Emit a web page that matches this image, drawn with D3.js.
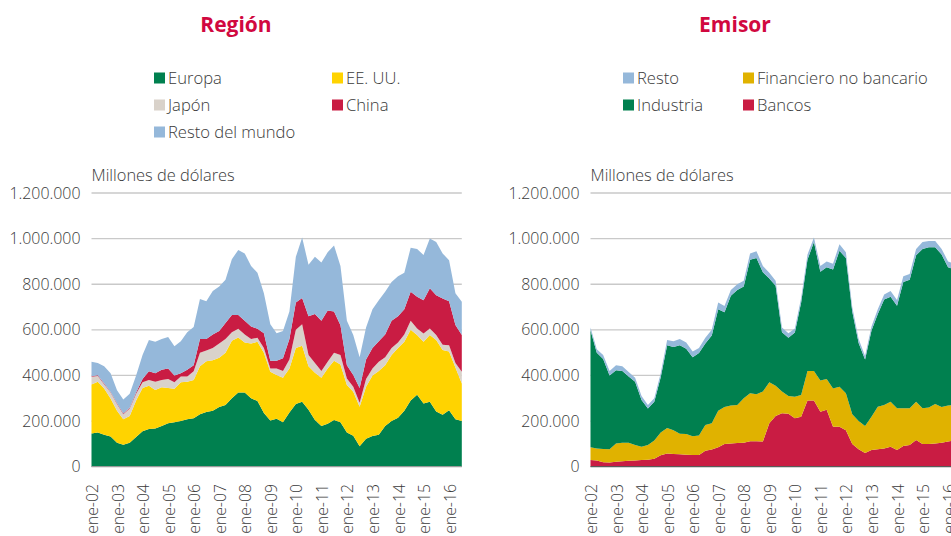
<!DOCTYPE html>
<html>
<head>
<meta charset="utf-8">
<script src="https://cdn.jsdelivr.net/npm/d3@7"></script>
<style>
  body { margin: 0; background: #fff; }
  svg { display: block; font-family: "Open Sans", "Noto Sans", sans-serif; }
  .lt { font-weight: 300; fill: #3a3a3a; }
</style>
</head>
<body>
<div id="vis"></div>
<script>
// quarterly readings, Jan 2002 .. Jul 2016 (values in thousands of millions of dollars)
const fechas = d3.range(59).map(i => new Date(2002, i * 3, 1));
const xTickLabels = ["ene-02","ene-03","ene-04","ene-05","ene-06","ene-07","ene-08","ene-09",
                     "ene-10","ene-11","ene-12","ene-13","ene-14","ene-15","ene-16"];
const yTicks = [0, 200000, 400000, 600000, 800000, 1000000, 1200000];

// Región
const europa = [146,150,140,132,105,96,105,130,155,165,168,178,190,195,200,208,212,230,240,245,
  262,270,300,325,325,300,288,235,203,210,195,238,275,285,250,205,178,188,205,195,
  150,136,90,122,135,140,178,200,215,245,290,315,277,285,242,228,248,208,200];
const eeuu = [214,222,203,167,140,112,117,160,190,190,168,170,155,147,170,164,168,210,222,222,
  216,230,252,241,220,240,260,265,213,192,195,192,245,245,190,207,212,242,260,253,
  208,193,173,228,265,280,267,290,305,303,310,262,271,292,313,284,257,227,165];
const japon = [34,26,19,26,30,22,33,30,25,25,36,32,40,28,25,23,38,60,48,53,
  62,60,38,39,35,20,17,20,15,29,30,40,80,95,50,43,30,30,35,42,
  29,21,17,35,30,40,35,30,25,32,40,29,36,29,22,23,28,20,51];
const china = [3,3,3,3,3,3,3,5,15,38,38,45,45,30,15,30,27,60,50,60,
  55,70,75,60,60,55,40,65,34,34,55,90,120,115,170,215,220,225,180,130,
  58,52,65,85,90,90,100,120,115,110,127,139,146,176,175,202,192,166,161];
const restoMundo = [63,54,75,82,57,62,62,75,105,137,138,135,139,128,140,165,167,175,165,190,
  195,190,245,285,295,265,245,175,160,120,120,120,200,265,225,250,255,255,290,260,
  195,175,135,140,170,180,187,170,175,160,193,210,198,218,233,198,180,139,146];

// Emisor
const bancos = [29,27,20,18,22,24,26,27,29,30,35,50,58,56,55,52,51,51,70,75,
  85,100,102,104,105,112,112,110,190,222,234,232,212,219,290,290,241,250,175,175,
  160,100,76,60,73,76,80,88,73,91,95,117,99,99,102,105,110,115,115];
const finNoBancario = [56,53,58,58,80,81,79,68,59,65,80,100,112,104,90,91,83,86,113,115,
  160,162,166,166,195,210,206,220,180,133,96,78,95,95,130,130,137,135,168,175,
  162,130,124,118,146,187,190,197,183,165,161,168,157,161,173,157,158,155,153];
const industria = [513,420,394,324,321,315,290,277,204,160,170,242,363,365,387,374,346,361,357,385,
  445,415,482,505,490,585,597,522,455,438,260,255,281,406,488,565,477,490,522,597,
  593,450,342,292,378,407,463,460,450,554,564,642,699,702,687,668,607,595,587];
const restoEmisor = [12,15,18,20,22,20,20,18,18,15,15,18,22,25,28,28,25,22,25,25,
  30,28,25,25,25,28,30,28,25,22,20,20,18,20,22,20,25,25,25,28,
  25,20,18,15,18,20,22,25,25,25,25,28,30,28,28,25,25,25,25];

const fmt = d3.formatLocale({ decimal: ",", thousands: ".", grouping: [3], currency: ["", ""] }).format(",d");

const svg = d3.select("#vis").append("svg")
    .attr("width", 951)
    .attr("height", 536);

const y = d3.scaleLinear()
    .domain([0, 1200000])
    .range([466.7, 193]);

function drawPanel(cfg) {
    const x = d3.scaleTime()
        .domain([fechas[0], fechas[fechas.length - 1]])
        .range([cfg.left, cfg.left + 370.3]);

    const table = fechas.map((f, i) => {
        const row = { fecha: f };
        cfg.series.forEach(s => row[s.name] = s.values[i] * 1000);
        return row;
    });

    const stacked = d3.stack().keys(cfg.series.map(s => s.name))(table);

    const g = svg.append("g");

    // title
    g.append("text")
        .attr("x", cfg.titleX)
        .attr("y", 32)
        .attr("text-anchor", "middle")
        .style("font-size", "21px")
        .style("font-weight", "bold")
        .style("fill", "#d1083f")
        .text(cfg.title);

    // legend
    cfg.legend.forEach(l => {
        const s = cfg.series.find(d => d.name === l.name);
        const lx = cfg.legendX[l.col];
        const ly = 78 + l.row * 27;
        g.append("rect")
            .attr("x", lx)
            .attr("y", ly - 5.5)
            .attr("width", 11)
            .attr("height", 11)
            .style("fill", s.color);
        g.append("text")
            .attr("class", "lt")
            .attr("x", lx + 14)
            .attr("y", ly + 6)
            .style("font-size", "16.6px")
            .text(l.name);
    });

    // unit label
    g.append("text")
        .attr("class", "lt")
        .attr("x", cfg.left)
        .attr("y", 181)
        .style("font-size", "16.4px")
        .text("Millones de dólares");

    // grid
    g.selectAll(".grid")
        .data(yTicks.filter(t => t > 0))
        .join("line")
        .attr("x1", cfg.left)
        .attr("x2", cfg.left + 370.3)
        .attr("y1", d => y(d))
        .attr("y2", d => y(d))
        .style("stroke", "#c9c9c9")
        .style("stroke-width", 1.3);

    // y tick labels
    g.selectAll(".ylab")
        .data(yTicks)
        .join("text")
        .attr("class", "lt")
        .attr("x", cfg.left - 11)
        .attr("y", d => y(d) + 5.5)
        .attr("text-anchor", "end")
        .style("font-size", "15.9px")
        .text(d => fmt(d));

    // areas
    const area = d3.area()
        .x(d => x(d.data.fecha))
        .y0(d => y(d[0]))
        .y1(d => y(d[1]));

    g.selectAll(".layer")
        .data(stacked)
        .join("path")
        .attr("d", area)
        .style("fill", (d, i) => cfg.series[i].color);

    // baseline
    g.append("line")
        .attr("x1", cfg.left)
        .attr("x2", cfg.left + 370.3)
        .attr("y1", y(0))
        .attr("y2", y(0))
        .style("stroke", cfg.baseColor)
        .style("stroke-width", 1.2);

    // x tick labels
    g.selectAll(".xlab")
        .data(xTickLabels)
        .join("text")
        .attr("class", "lt")
        .attr("transform", (d, i) => `translate(${x(new Date(2002 + i, 0, 1)) + 1}, 484) rotate(-90)`)
        .attr("dy", "0.35em")
        .attr("text-anchor", "end")
        .style("font-size", "15.8px")
        .text(d => d);
}

drawPanel({
    title: "Región",
    titleX: 236,
    left: 91.5,
    legendX: [154, 332],
    baseColor: "#9a9a9a",
    series: [
        { name: "Europa", values: europa, color: "#00804f" },
        { name: "EE. UU.", values: eeuu, color: "#ffd300" },
        { name: "Japón", values: japon, color: "#d9d2ca" },
        { name: "China", values: china, color: "#c91c43" },
        { name: "Resto del mundo", values: restoMundo, color: "#95b8da" }
    ],
    legend: [
        { name: "Europa", col: 0, row: 0 }, { name: "EE. UU.", col: 1, row: 0 },
        { name: "Japón", col: 0, row: 1 }, { name: "China", col: 1, row: 1 },
        { name: "Resto del mundo", col: 0, row: 2 }
    ]
});

drawPanel({
    title: "Emisor",
    titleX: 735,
    left: 590.5,
    legendX: [623, 743],
    baseColor: "#5a5a5a",
    series: [
        { name: "Bancos", values: bancos, color: "#c91c43" },
        { name: "Financiero no bancario", values: finNoBancario, color: "#e0b200" },
        { name: "Industria", values: industria, color: "#00804f" },
        { name: "Resto", values: restoEmisor, color: "#95b8da" }
    ],
    legend: [
        { name: "Resto", col: 0, row: 0 }, { name: "Financiero no bancario", col: 1, row: 0 },
        { name: "Industria", col: 0, row: 1 }, { name: "Bancos", col: 1, row: 1 }
    ]
});
</script>
</body>
</html>
